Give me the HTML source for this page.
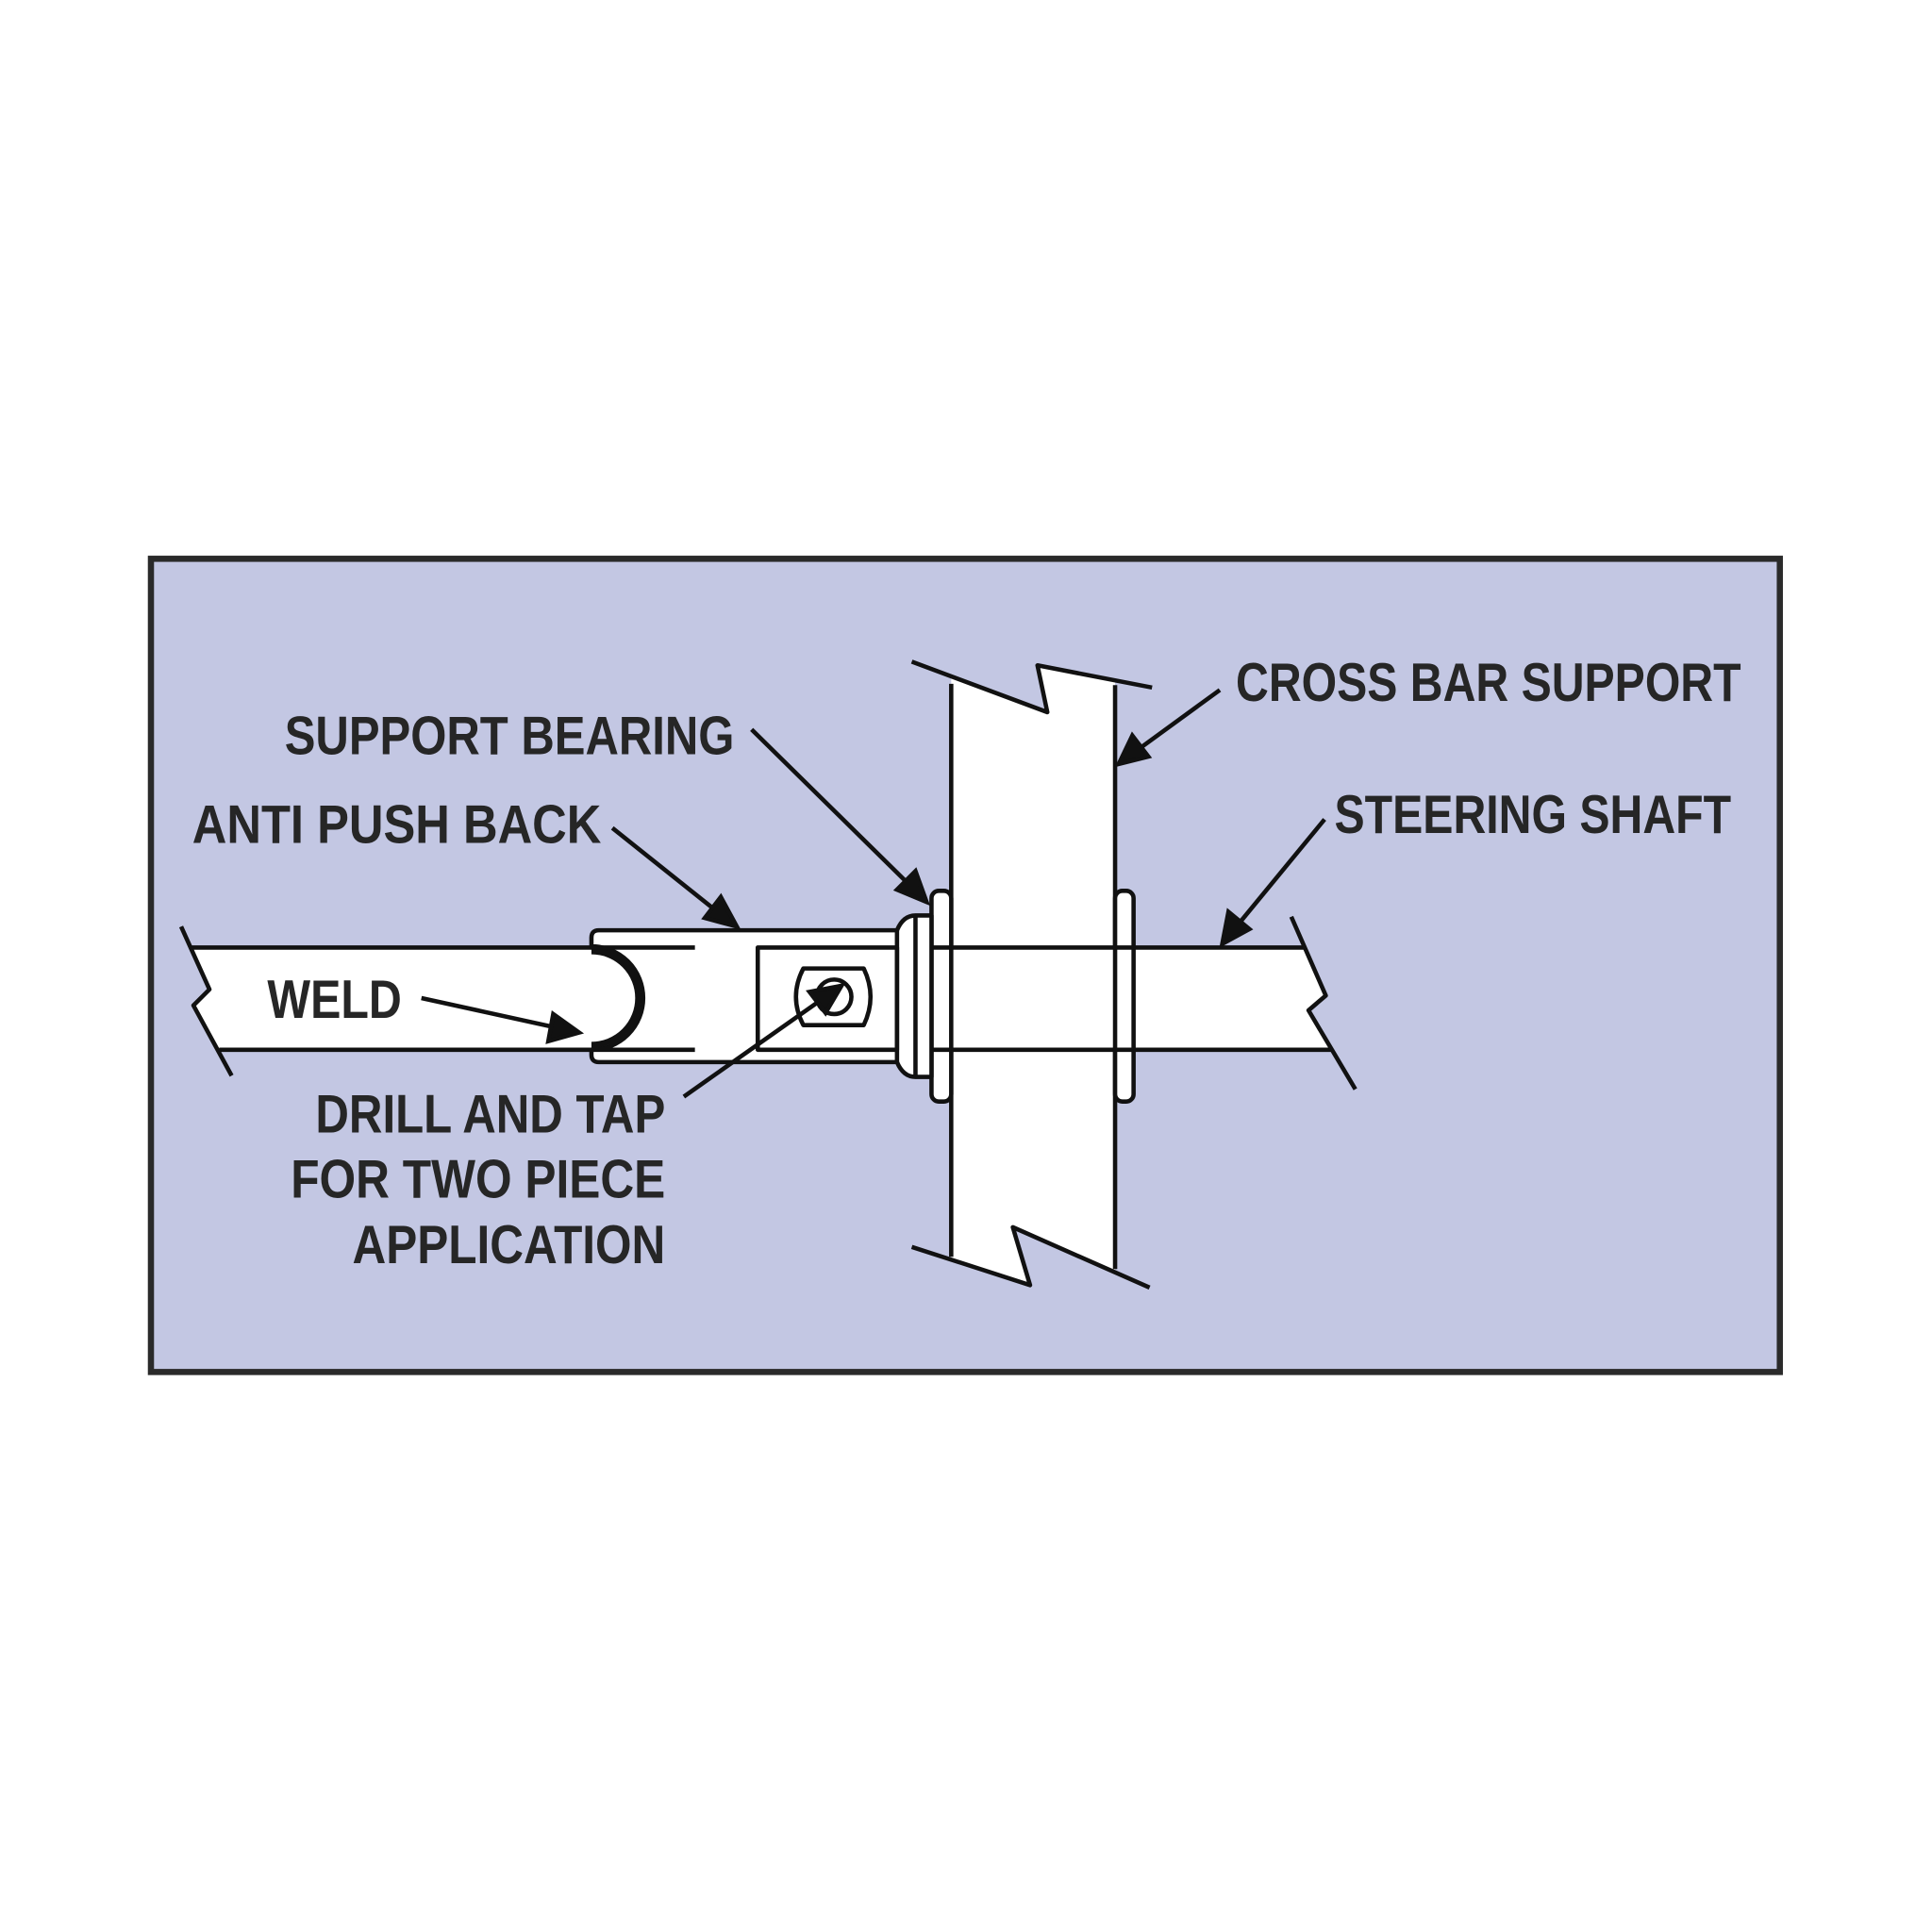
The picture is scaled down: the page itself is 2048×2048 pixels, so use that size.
<!DOCTYPE html>
<html><head><meta charset="utf-8"><style>
html,body{margin:0;padding:0;background:#fff;}
svg{display:block;}
text{font-family:"Liberation Sans",sans-serif;font-weight:bold;fill:#262626;font-size:44px;}
</style></head><body>
<svg width="2048" height="2048" viewBox="0 0 1568 1568" xmlns="http://www.w3.org/2000/svg">
<rect x="0" y="0" width="1568" height="1568" fill="#fff"/>
<rect x="122.5" y="453.5" width="1322" height="660" fill="#c3c7e3" stroke="#2a2a2a" stroke-width="5"/>

<g stroke="#111" stroke-width="3.5" fill="#fff" stroke-linejoin="round">
<!-- crossbar -->
<polygon points="772,549 850,578 842,540 905,552 905,1033 822,996 836,1043 772,1022" fill="#fff" stroke="none"/>
<line x1="772" y1="555" x2="772" y2="1020"/>
<line x1="905" y1="556" x2="905" y2="1030"/>
<polyline points="740,537 850,578 842,540 935,558" fill="none"/>
<polyline points="740,1012 836,1043 822,996 933,1045" fill="none"/>

<!-- shaft -->
<polygon points="155,769 1059,769 1076,808 1062,820 1081,852 177,852 157,816 170,803" fill="#fff" stroke="none"/>
<line x1="155" y1="769" x2="564" y2="769"/>
<line x1="178" y1="852" x2="564" y2="852"/>
<line x1="564" y1="769" x2="564" y2="852"/>
<line x1="905" y1="769" x2="1058" y2="769"/>
<line x1="905" y1="852" x2="1080" y2="852"/>
<line x1="772" y1="769" x2="905" y2="769"/>
<line x1="772" y1="852" x2="905" y2="852"/>
<polyline points="147,752 170,803 157,816 188,873" fill="none"/>
<polyline points="1048,744 1076,808 1062,820 1100,884" fill="none"/>

<!-- bearing flanges -->
<rect x="756" y="723" width="16" height="171" rx="6"/>
<rect x="905" y="723" width="15" height="171" rx="6"/>
<line x1="756" y1="769" x2="772" y2="769"/>
<line x1="756" y1="852" x2="772" y2="852"/>
<line x1="905" y1="769" x2="920" y2="769"/>
<line x1="905" y1="852" x2="920" y2="852"/>

<!-- collar -->
<path d="M486,755 L728,755 Q733,743 743,743 L756,743 L756,874 L743,874 Q733,874 728,862 L486,862 Q480,862 480,856 L480,852 A42,42 0 0 0 480,768 L480,761 Q480,755 486,755 Z"/>
<path d="M480,772 A38,38 0 0 1 480,848" fill="none" stroke-width="5"/>
<line x1="728" y1="755" x2="728" y2="862"/>
<line x1="743" y1="743" x2="743" y2="874"/>
<rect x="615" y="769" width="113" height="83" fill="none"/>
<line x1="564" y1="769" x2="480" y2="769"/>
<line x1="564" y1="852" x2="480" y2="852"/>
<path d="M652,786 L701,786 Q712,809 701,832 L652,832 Q640,809 652,786 Z"/>
<circle cx="677" cy="809" r="14"/>
</g>

<!-- arrows -->
<g stroke="#111" stroke-width="3.5" fill="#111">
<line x1="990" y1="560" x2="920" y2="611"/>
<polygon points="908,620 919,597 932,614"/>
<line x1="610" y1="592" x2="742" y2="722"/>
<polygon points="752,732 728,722 743,707"/>
<line x1="497" y1="672" x2="586" y2="743"/>
<polygon points="598,752 572,745 585,728"/>
<line x1="1075" y1="665" x2="1001" y2="755"/>
<polygon points="992,766 997,740 1014,754"/>
<line x1="342" y1="810" x2="456" y2="835"/>
<polygon points="470,838 445,845 449,823"/>
<line x1="555" y1="890" x2="670" y2="809"/>
<polygon points="683,800 670,822 657,805"/>
</g>

<g>
<text x="1003" y="569" textLength="410" lengthAdjust="spacingAndGlyphs">CROSS BAR SUPPORT</text>
<text x="231" y="612" textLength="365" lengthAdjust="spacingAndGlyphs">SUPPORT BEARING</text>
<text x="156" y="684" textLength="332" lengthAdjust="spacingAndGlyphs">ANTI PUSH BACK</text>
<text x="1083" y="676" textLength="322" lengthAdjust="spacingAndGlyphs">STEERING SHAFT</text>
<text x="217" y="826" textLength="109" lengthAdjust="spacingAndGlyphs">WELD</text>
<text x="256" y="919" textLength="284" lengthAdjust="spacingAndGlyphs">DRILL AND TAP</text>
<text x="236" y="972" textLength="304" lengthAdjust="spacingAndGlyphs">FOR TWO PIECE</text>
<text x="286" y="1025" textLength="254" lengthAdjust="spacingAndGlyphs">APPLICATION</text>
</g>
</svg>
</body></html>
